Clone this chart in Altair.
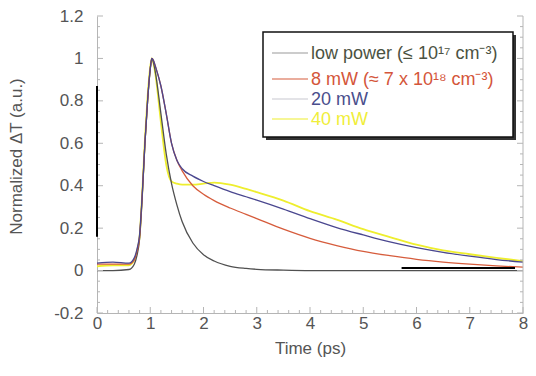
import altair as alt
import pandas as pd

# ---------------- data ----------------
time_ps = [0, 0.3, 0.6, 0.7, 0.75, 0.8, 0.85, 0.9, 0.95, 1.0, 1.03, 1.06, 1.1, 1.2, 1.3,
           1.4, 1.5, 1.6, 1.8, 2.0, 2.2, 2.5, 2.8, 3.0, 3.5, 4.0, 4.5, 5.0, 5.5, 6.0,
           6.5, 7.0, 7.5, 8.0]

low_power = [0, 0, 0.005, 0.03, 0.07, 0.15, 0.35, 0.6, 0.8, 0.95, 1.0, 0.98, 0.93, 0.74, 0.55,
             0.41, 0.31, 0.23, 0.13, 0.075, 0.045, 0.02, 0.01, 0.006, 0.002, 0, 0, 0, 0, 0,
             0, 0, 0, 0]

mw8 = [0.03, 0.03, 0.03, 0.05, 0.09, 0.16, 0.36, 0.6, 0.8, 0.95, 1.0, 0.99, 0.96, 0.87, 0.74,
       0.6, 0.52, 0.47, 0.40, 0.36, 0.33, 0.295, 0.265, 0.245, 0.195, 0.152, 0.118, 0.09, 0.07, 0.053,
       0.04, 0.03, 0.022, 0.016]

mw20 = [0.035, 0.04, 0.035, 0.06, 0.1, 0.17, 0.36, 0.6, 0.8, 0.95, 1.0, 0.99, 0.96, 0.87, 0.74,
        0.6, 0.52, 0.48, 0.445, 0.42, 0.40, 0.372, 0.348, 0.332, 0.29, 0.245, 0.203, 0.168, 0.135, 0.108,
        0.086, 0.068, 0.052, 0.04]

mw40 = [0.02, 0.025, 0.025, 0.05, 0.09, 0.16, 0.37, 0.62, 0.82, 0.96, 1.0, 0.98, 0.92, 0.70, 0.50,
        0.42, 0.41, 0.405, 0.405, 0.41, 0.415, 0.405, 0.385, 0.37, 0.33, 0.28, 0.24, 0.195, 0.158, 0.122,
        0.095, 0.077, 0.06, 0.045]

series_names = ["low power", "8 mW", "20 mW", "40 mW"]
series_values = [low_power, mw8, mw20, mw40]
series_colors = ["#505050", "#d65c3c", "#4a478f", "#eeee2e"]
draw_order = [3, 0, 1, 2]

legend_labels = ["low power (≤ 10¹⁷ cm⁻³)", "8 mW (≈ 7 x 10¹⁸ cm⁻³)", "20 mW", "40 mW"]
legend_text_colors = ["#4b5242", "#d4553a", "#4a4e8c", "#f0ee3a"]
legend_swatch_colors = ["#9a9a9a", "#d65c3c", "#c8c8d0", "#eeee2e"]

x_ticks = [0, 1, 2, 3, 4, 5, 6, 7, 8]
x_minor = [0.2, 0.4, 0.6, 0.8, 1.2, 1.4, 1.6, 1.8, 2.2, 2.4, 2.6, 2.8, 3.2, 3.4, 3.6, 3.8,
           4.2, 4.4, 4.6, 4.8, 5.2, 5.4, 5.6, 5.8, 6.2, 6.4, 6.6, 6.8, 7.2, 7.4, 7.6, 7.8]
y_ticks = [-0.2, 0, 0.2, 0.4, 0.6, 0.8, 1, 1.2]
y_minor = [-0.15, -0.1, -0.05, 0.05, 0.1, 0.15, 0.25, 0.3, 0.35, 0.45, 0.5, 0.55, 0.65, 0.7,
           0.75, 0.85, 0.9, 0.95, 1.05, 1.1, 1.15]

# scan artefacts visible in the reference
artefact_v = {"x": [0.0], "y": [0.16], "y2": [0.87]}
artefact_h = {"x": [5.72], "x2": [7.85], "y": [0.012]}

W, H = 426, 297
FONT = "Liberation Sans"
TXT = "#555555"
AX = "#b5b5b5"

xs = alt.Scale(domain=[0, 8], nice=False, zero=False)
ys = alt.Scale(domain=[-0.2, 1.2], nice=False, zero=False)

x_axis = alt.Axis(
    values=x_ticks, title="Time (ps)", ticks=False, grid=False, labelFlush=False,
    domainColor=AX, labelFont=FONT, labelFontSize=17, labelColor=TXT,
    labelPadding=2, titleFont=FONT, titleFontSize=17, titleFontWeight="normal",
    titleColor=TXT, titlePadding=9, format="d")
y_axis = alt.Axis(
    values=y_ticks, title="Normalized ΔT (a.u.)", ticks=False, grid=False, labelFlush=False,
    domainColor=AX, labelFont=FONT, labelFontSize=17, labelColor=TXT,
    labelPadding=14, labelExpr="toString(datum.value)", titleFont=FONT,
    titleFontSize=17, titleFontWeight="normal", titleColor=TXT, titlePadding=28,
    titleY=140)


def X(field, **kw):
    return alt.X(field, scale=xs, axis=x_axis, **kw)


def Y(field, **kw):
    return alt.Y(field, scale=ys, axis=y_axis, **kw)


layers = []

# series
for i in draw_order:
    df = pd.DataFrame({"t": time_ps, "v": series_values[i]})
    layers.append(alt.Chart(df).mark_line(
        color=series_colors[i], strokeWidth=1.8 if i == 3 else 1.3,
        interpolate="monotone").encode(x=X("t:Q"), y=Y("v:Q")))

# frame + inward ticks
one = pd.DataFrame({"a": [0]})
layers.append(alt.Chart(one).mark_rule(color=AX, strokeWidth=1).encode(
    x=alt.value(W), y=alt.value(0), y2=alt.value(H)))

xt = pd.DataFrame({"x": x_ticks})
xm = pd.DataFrame({"x": x_minor})
yt = pd.DataFrame({"y": y_ticks})
ym = pd.DataFrame({"y": y_minor})
layers.append(alt.Chart(xt).mark_rule(color=AX).encode(
    x=X("x:Q"), y=alt.value(H), y2=alt.value(H - 6)))
layers.append(alt.Chart(xm).mark_rule(color=AX).encode(
    x=X("x:Q"), y=alt.value(H), y2=alt.value(H - 3)))
layers.append(alt.Chart(yt).mark_rule(color=AX).encode(
    y=Y("y:Q"), x=alt.value(0), x2=alt.value(6)))
layers.append(alt.Chart(ym).mark_rule(color=AX).encode(
    y=Y("y:Q"), x=alt.value(0), x2=alt.value(3)))
layers.append(alt.Chart(yt).mark_rule(color=AX).encode(
    y=Y("y:Q"), x=alt.value(W), x2=alt.value(W - 6)))
layers.append(alt.Chart(ym).mark_rule(color=AX).encode(
    y=Y("y:Q"), x=alt.value(W), x2=alt.value(W - 3)))

# artefacts
layers.append(alt.Chart(pd.DataFrame(artefact_v)).mark_rule(color="#000000", strokeWidth=2).encode(
    x=X("x:Q"), y=Y("y:Q"), y2="y2:Q"))
layers.append(alt.Chart(pd.DataFrame(artefact_h)).mark_rule(color="#000000", strokeWidth=2).encode(
    x=X("x:Q"), x2="x2:Q", y=Y("y:Q")))

# legend box (shadow + box)
LX0, LX1, LY0, LY1 = 166, 416, 16, 121
layers.append(alt.Chart(one).mark_rect(fill="#333333").encode(
    x=alt.value(LX0 + 3), x2=alt.value(LX1 + 3), y=alt.value(LY0 + 3), y2=alt.value(LY1 + 3)))
layers.append(alt.Chart(one).mark_rect(fill="white", stroke="#111111", strokeWidth=1.5).encode(
    x=alt.value(LX0), x2=alt.value(LX1), y=alt.value(LY0), y2=alt.value(LY1)))

entry_y = [37, 63, 83, 103]
for i in range(4):
    layers.append(alt.Chart(one).mark_rule(color=legend_swatch_colors[i], strokeWidth=1.2).encode(
        x=alt.value(175), x2=alt.value(211), y=alt.value(entry_y[i]), y2=alt.value(entry_y[i])))
    layers.append(alt.Chart(pd.DataFrame({"label": [legend_labels[i]]})).mark_text(
        align="left", baseline="middle", font=FONT, fontSize=18,
        color=legend_text_colors[i]).encode(
        x=alt.value(214), y=alt.value(entry_y[i] + 1), text="label:N"))

chart = alt.layer(*layers).properties(
    width=W, height=H, autosize="none",
    padding={"left": 89, "top": 8, "right": 5, "bottom": 50},
).configure_view(strokeWidth=0)

chart.save("out.html", embed_options={"renderer": "svg", "actions": False})
